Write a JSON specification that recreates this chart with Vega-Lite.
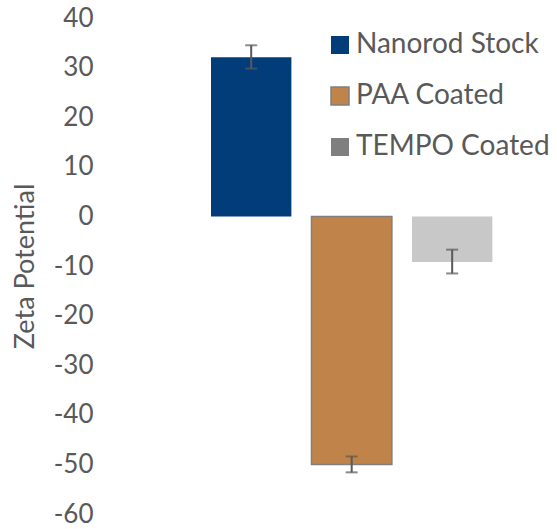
{
  "$schema": "https://vega.github.io/schema/vega-lite/v6.json",
  "autosize": {"type": "none"},
  "padding": {"left": 100, "top": 18, "right": 0, "bottom": 15},
  "width": 457,
  "height": 496,
  "background": "white",
  "config": {
    "view": {"stroke": null},
    "font": "Lato"
  },
  "data": {
    "values": [
      {"series": "Nanorod Stock", "zeta": 32.1, "lo": 29.8, "hi": 34.5},
      {"series": "PAA Coated", "zeta": -50.0, "lo": -51.6, "hi": -48.4},
      {"series": "TEMPO Coated", "zeta": -9.2, "lo": -11.5, "hi": -6.7}
    ]
  },
  "encoding": {
    "x": {
      "field": "series",
      "type": "nominal",
      "sort": ["Nanorod Stock", "PAA Coated", "TEMPO Coated"],
      "axis": null,
      "scale": {"paddingInner": 0.2, "paddingOuter": 0.874, "align": 0.632}
    }
  },
  "layer": [
    {
      "mark": {"type": "square", "opacity": 0, "size": 1},
      "encoding": {
        "y": {"datum": 0, "type": "quantitative", "title": "Zeta Potential"},
        "color": {
          "field": "series",
          "type": "nominal",
          "sort": ["Nanorod Stock", "PAA Coated", "TEMPO Coated"],
          "scale": {
            "domain": ["Nanorod Stock", "PAA Coated", "TEMPO Coated"],
            "range": ["#033d79", "#c0844a", "#7f7f7f"]
          },
          "legend": {
            "title": null,
            "orient": "none",
            "legendX": 226,
            "legendY": 13,
            "padding": 0,
            "symbolType": "square",
            "symbolSize": 324,
            "symbolStrokeWidth": 1.5,
            "symbolOpacity": 1,
            "labelFontSize": 28,
            "labelColor": "#595959",
            "labelOffset": 2,
            "rowPadding": 23,
            "labelLimit": 400
          }
        },
        "stroke": {
          "field": "series",
          "type": "nominal",
          "sort": ["Nanorod Stock", "PAA Coated", "TEMPO Coated"],
          "scale": {
            "domain": ["Nanorod Stock", "PAA Coated", "TEMPO Coated"],
            "range": ["transparent", "#7f7f7f", "transparent"]
          },
          "legend": {
            "title": null,
            "orient": "none",
            "legendX": 226,
            "legendY": 13,
            "padding": 0,
            "symbolType": "square",
            "symbolSize": 324,
            "symbolStrokeWidth": 1.5,
            "symbolOpacity": 1,
            "labelFontSize": 28,
            "labelColor": "#595959",
            "labelOffset": 2,
            "rowPadding": 23,
            "labelLimit": 400
          }
        }
      }
    },
    {
      "mark": {"type": "bar", "strokeWidth": 1.5},
      "encoding": {
        "y": {
          "field": "zeta",
          "type": "quantitative",
          "title": "Zeta Potential",
          "scale": {"domain": [-60, 40], "nice": false, "zero": false},
          "axis": {
            "values": [-60, -50, -40, -30, -20, -10, 0, 10, 20, 30, 40],
            "labelExpr": "'' + datum.value",
            "domain": false,
            "ticks": false,
            "grid": false,
            "labelFontSize": 26,
            "labelColor": "#595959",
            "labelPadding": 7,
            "titleFontSize": 27,
            "titleFontWeight": "normal",
            "titleColor": "#595959",
            "titlePadding": 14
          }
        },
        "fill": {
          "field": "series",
          "type": "nominal",
          "scale": {
            "domain": ["Nanorod Stock", "PAA Coated", "TEMPO Coated"],
            "range": ["#033d79", "#c0844a", "#c8c8c8"]
          },
          "legend": null
        },
        "stroke": {
          "condition": {"test": "datum.series === 'PAA Coated'", "value": "#7f7f7f"},
          "value": null
        }
      }
    },
    {
      "mark": {"type": "errorbar", "ticks": {"size": 12, "thickness": 2}, "thickness": 2, "color": "#595959"},
      "encoding": {
        "y": {"field": "lo", "type": "quantitative", "title": "Zeta Potential"},
        "y2": {"field": "hi"}
      }
    }
  ]
}
